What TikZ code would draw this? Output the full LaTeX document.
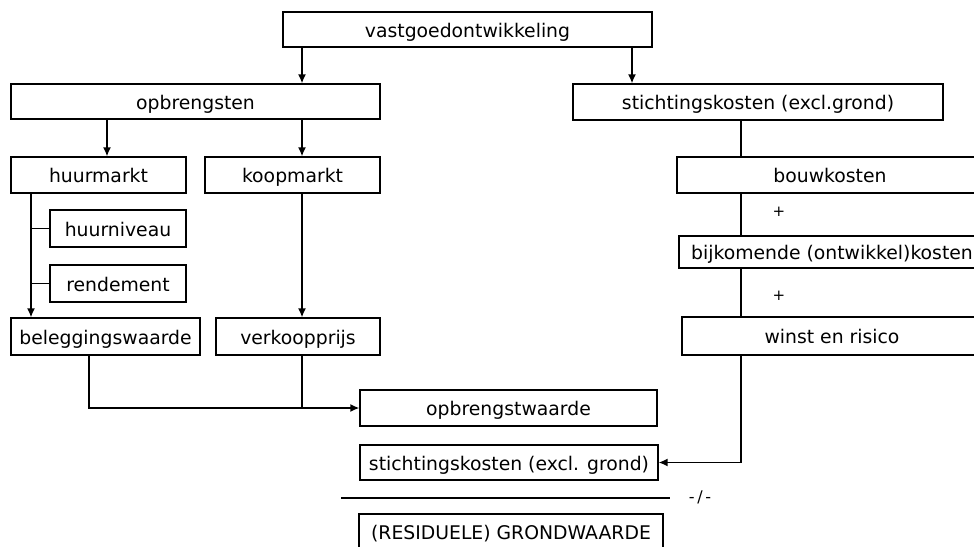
\documentclass[tikz,border=0pt]{standalone}
\usepackage{fontspec}
\setmainfont{DejaVu Sans}
\usetikzlibrary{arrows.meta}
\begin{document}
\begin{tikzpicture}[x=1pt,y=-1pt,>={Latex[length=9pt,width=8pt]},
  box/.style={draw,line width=1.3pt,inner sep=0pt,text height=15.5pt,text depth=0pt,
    font=\fontsize{18.8}{21}\selectfont},
  lijn/.style={line width=1.5pt}]
\useasboundingbox (0,0) rectangle (974,546);
\clip (0,0) rectangle (974,546);
%kolommen
\coordinate (k31) at (31,0);
\coordinate (k89) at (89,0);
\coordinate (k107) at (107,0);
\coordinate (k302) at (302,0);
\coordinate (k632) at (632,0);
\coordinate (k741) at (741,0);
%top
\node[box,minimum width=369pt,minimum height=35pt] (vast) at (467.5,29.5) {vastgoedontwikkeling};
\node[box,minimum width=369pt,minimum height=35pt] (opbr) at (195.5,101.5) {opbrengsten};
\node[box,minimum width=370pt,minimum height=36pt] (stich) at (758,102) {stichtingskosten (excl.grond)};
%opbrengsten
\node[box,minimum width=175pt,minimum height=36pt] (huur) at (98.5,175) {huurmarkt};
\node[box,minimum width=175pt,minimum height=36pt] (koop) at (292.5,175) {koopmarkt};
\node[box,minimum width=136pt,minimum height=37pt] (niveau) at (118,228.5) {huurniveau};
\node[box,minimum width=136pt,minimum height=37pt] (rend) at (118,283.5) {rendement};
\node[box,minimum width=189pt,minimum height=37pt] (beleg) at (105.5,336.5) {beleggingswaarde};
\node[box,minimum width=164pt,minimum height=37pt] (verk) at (298,336.5) {verkoopprijs};
%kosten
\node[box,minimum width=306pt,minimum height=36pt] (bouw) at (830,175) {bouwkosten};
\node[box,minimum width=306pt,minimum height=32pt] (bijk) at (832,252) {bijkomende (ontwikkel)kosten};
\node[box,minimum width=300pt,minimum height=38pt] (winst) at (832,336) {winst en risico};
\node[font=\fontsize{15}{17}\selectfont] (plusa) at (779,212) {+};
\node[font=\fontsize{15}{17}\selectfont] (plusb) at (779,296) {+};
%resultaat
\node[box,minimum width=297pt,minimum height=36pt] (opbw) at (508.5,408) {opbrengstwaarde};
\node[box,minimum width=298pt,minimum height=35pt] (stk) at (509,462.5) {stichtingskosten (excl. grond)};
\draw[line width=1.3pt] (341,498) -- (670,498);
\node[font=\fontsize{16}{18}\selectfont] (minus) at (700,497) {-\,/\,-};
\node[box,minimum width=304pt,minimum height=36pt] (grond) at (511,532) {(RESIDUELE) GRONDWAARDE};

\draw[lijn,->] (vast.south -| k302) -- (opbr.north -| k302);
\draw[lijn,->] (vast.south -| k632) -- (stich.north -| k632);
\draw[lijn,->] (opbr.south -| k107) -- (huur.north -| k107);
\draw[lijn,->] (opbr.south -| k302) -- (koop.north -| k302);
\draw[lijn,->] (huur.south -| k31) -- (beleg.north -| k31);
\draw[lijn] (niveau.west) -- (niveau.west -| k31);
\draw[lijn] (rend.west) -- (rend.west -| k31);
\draw[lijn,->] (koop.south -| k302) -- (verk.north -| k302);
\draw[lijn,->] (beleg.south -| k89) |- (opbw.west);
\draw[lijn] (verk.south -| k302) -- (opbw.west -| k302);
\draw[line width=1.3pt] (stich.south -| k741) -- (bouw.north -| k741);
\draw[line width=1.3pt] (bouw.south -| k741) -- (bijk.north -| k741);
\draw[line width=1.3pt] (bijk.south -| k741) -- (winst.north -| k741);
\draw[lijn,->] (winst.south -| k741) |- (stk.east);
\end{tikzpicture}
\end{document}
